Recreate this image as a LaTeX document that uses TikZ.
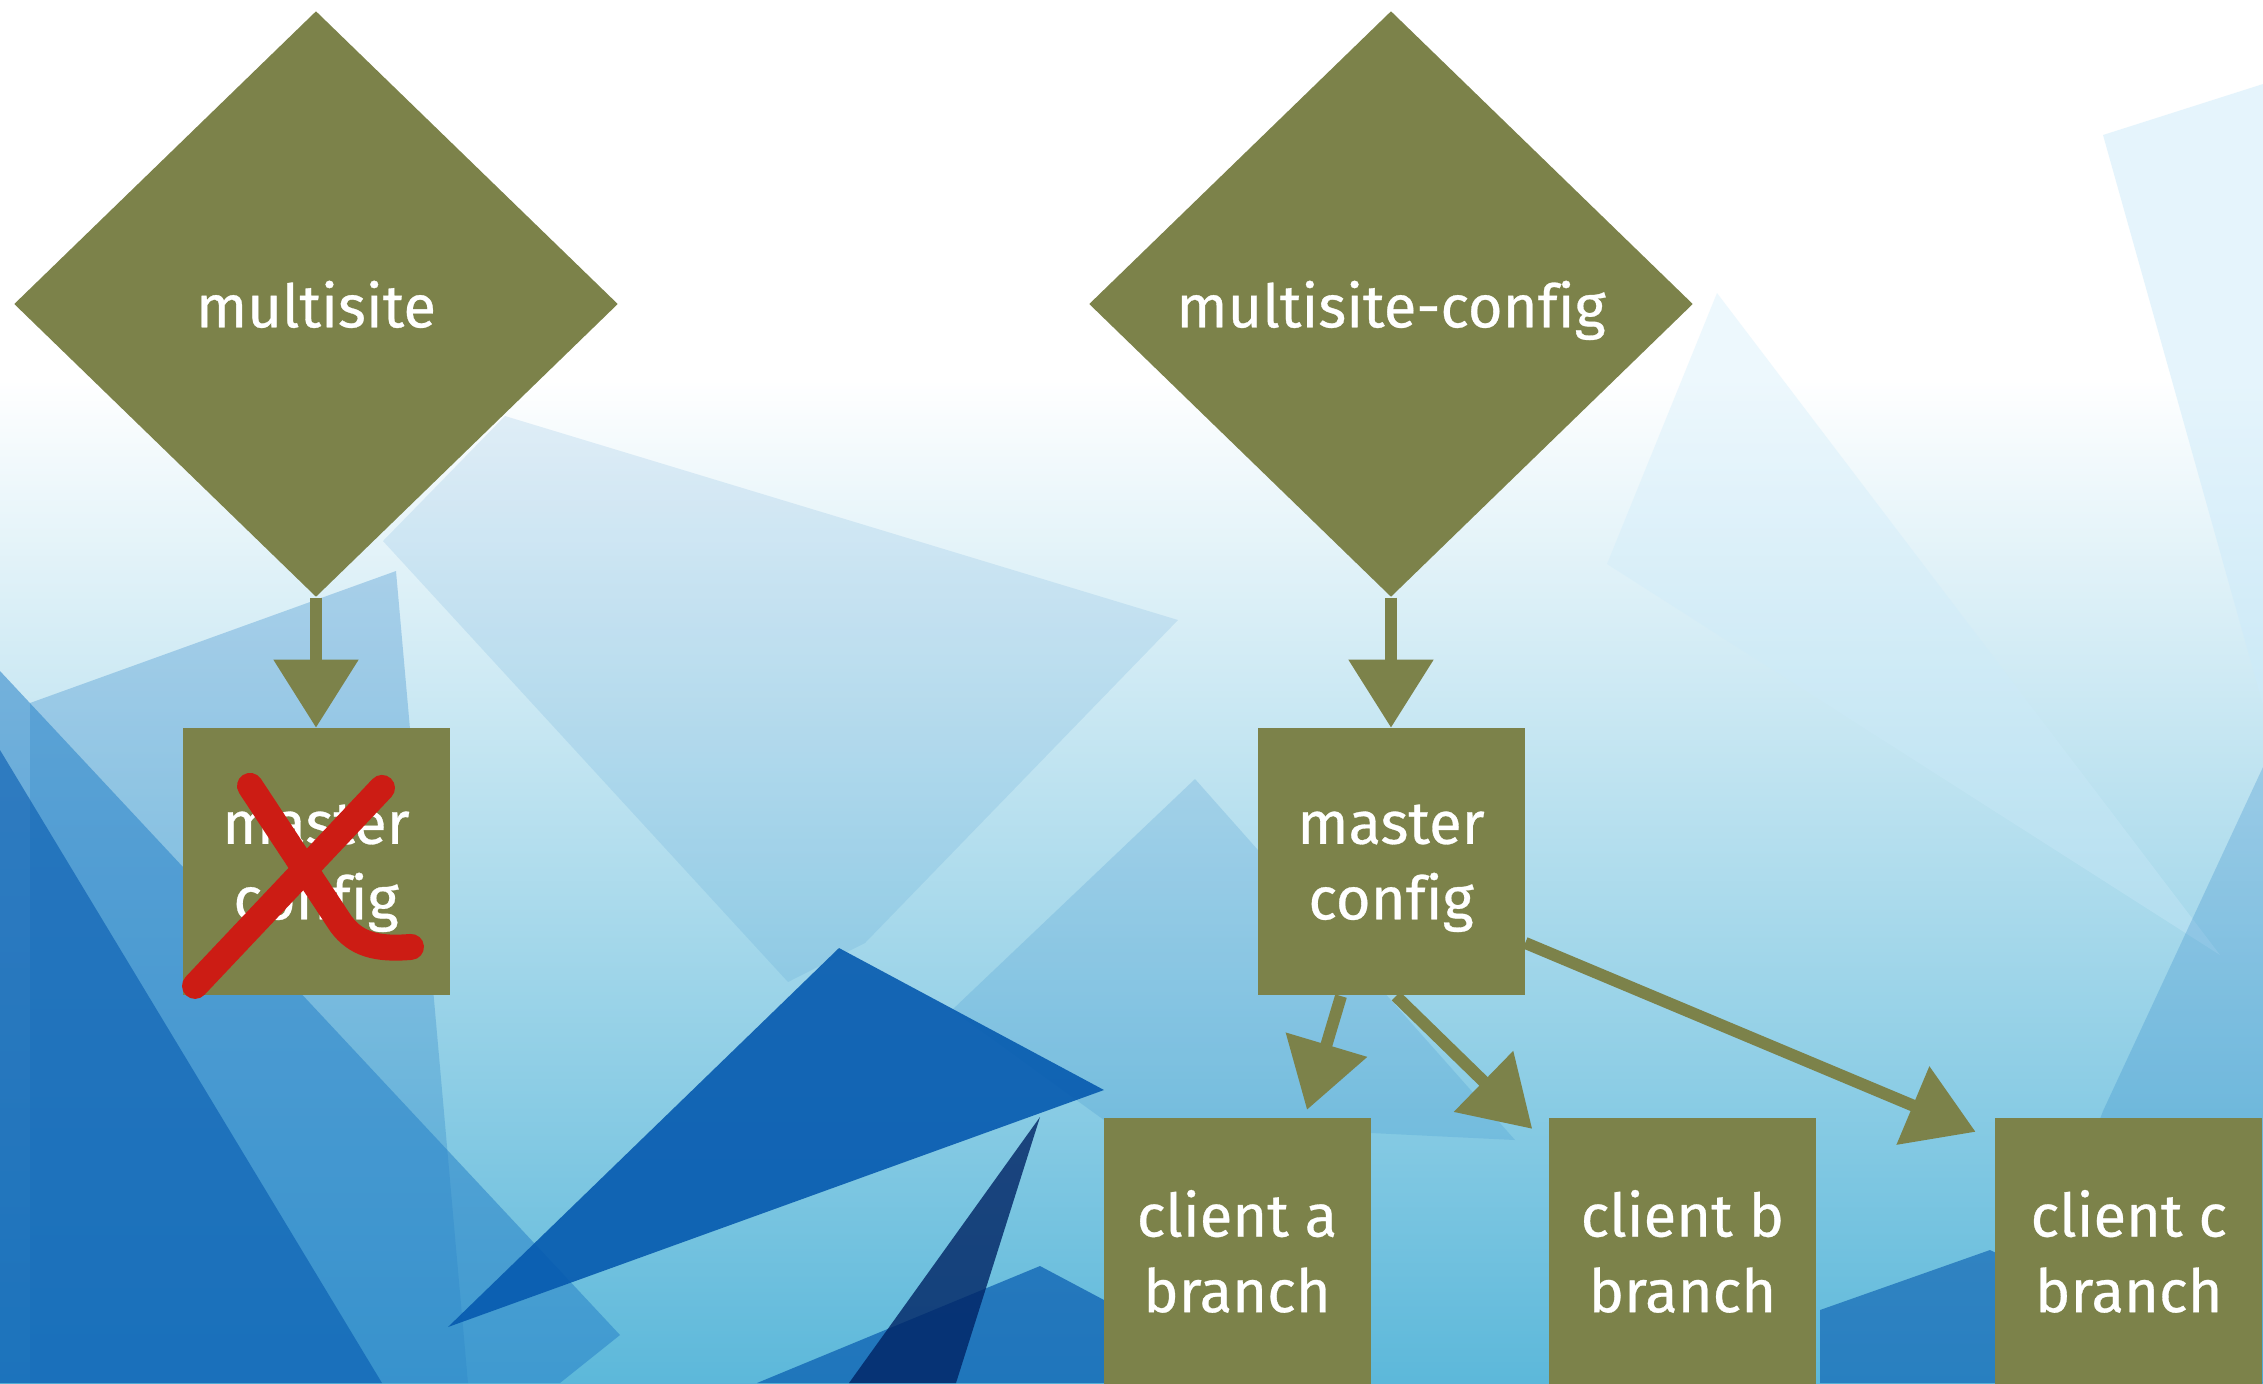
\documentclass[tikz,border=0pt]{standalone}
\usepackage{fontspec}
\setmainfont{Fira Sans}[Ligatures=NoCommon, FakeBold=0.5]
\usetikzlibrary{shapes.geometric, arrows.meta, positioning, calc}
\definecolor{olivecolor}{RGB}{124, 130, 74}
\definecolor{crosscolor}{RGB}{204, 28, 20}
\definecolor{skytop}{RGB}{255, 255, 255}
\definecolor{skymid}{RGB}{178, 222, 240}
\definecolor{skylow}{RGB}{92, 184, 218}
\definecolor{bluemid}{RGB}{40, 130, 200}
\definecolor{bluedeep}{RGB}{6, 90, 175}
\definecolor{bluenavy}{RGB}{0, 35, 100}
\definecolor{bluepale}{RGB}{205, 235, 250}
\tikzset{
    % Base styles
    labeltext/.style={
        text=white, align=center, text depth=0pt,
        font=\fontsize{17}{21.5}\selectfont
    },
    % Specific node types
    diamondnode/.style={
        diamond, labeltext, fill=olivecolor, inner sep=0pt,
        minimum width=60.4mm, minimum height=58.6mm
    },
    boxnode/.style={
        rectangle, labeltext, fill=olivecolor, inner sep=0pt,
        minimum width=26.7mm, minimum height=26.7mm
    },
    % Arrows
    sketcharrow/.style={
        -{Triangle[length=6.8mm, width=8.2mm]}, line width=1.2mm, olivecolor
    },
    % Background pieces
    facet/.style={fill=#1, draw=none},
    crossline/.style={crosscolor, line width=2.6mm, line cap=round, line join=round}
}

\begin{document}
\begin{tikzpicture}[x=0.1mm, y=-0.1mm]

\useasboundingbox (0,0) rectangle (2263,1383);

% Background
\fill[skytop] (0,0) rectangle (2263,380);
\shade[top color=skytop, middle color=skymid, bottom color=skylow] (0,379) rectangle (2263,1383);
\fill[facet=bluepale, opacity=0.5] (2103,135) -- (2263,84) -- (2263,705) -- cycle;
\fill[facet=bluepale, opacity=0.35] (1717,293) -- (1607,564) -- (2220,955) -- cycle;
\fill[facet=bluemid, opacity=0.12] (505,416) -- (1178,620) -- (865,943) -- (788,982) -- (383,541) -- cycle;
\fill[facet=bluemid, opacity=0.18] (1195,779) -- (952,1010) -- (1104,1120) -- (1515,1140) -- cycle;
\fill[facet=bluemid, opacity=0.25] (2263,767) -- (2103,1111) -- (2000,1383) -- (2263,1383) -- cycle;
\fill[facet=bluemid, opacity=0.3] (30,703) -- (396,571) -- (468,1383) -- (30,1383) -- cycle;
\fill[facet=bluemid, opacity=0.55] (0,671) -- (620,1335) -- (560,1383) -- (0,1383) -- cycle;
\fill[facet=bluedeep, opacity=0.6] (0,750) -- (382,1383) -- (0,1383) -- cycle;
\fill[facet=bluedeep, opacity=0.9] (839,948) -- (1104,1090) -- (448,1327) -- cycle;
\fill[facet=bluedeep, opacity=0.7] (1040,1266) -- (757,1383) -- (1104,1383) -- (1104,1300) -- cycle;
\fill[facet=bluenavy, opacity=0.8] (1040,1117) -- (849,1383) -- (956,1383) -- cycle;
\fill[facet=bluedeep, opacity=0.6] (1820,1310) -- (1990,1250) -- (2263,1383) -- (1820,1383) -- cycle;

% Repositories
\node (multisite) [diamondnode] at (316,304) {multisite};
\node (msconfig) [diamondnode] at (1391,304) {multisite-config};

% Branches
\node (oldmaster) [boxnode, below=13mm of multisite] {master\\config};
\node (master) [boxnode, below=13mm of msconfig] {master\\config};
\node (clienta) [boxnode] at (1237,1251) {client a\\branch};
\node (clientb) [boxnode, right=17.7mm of clienta] {client b\\branch};
\node (clientc) [boxnode, right=17.8mm of clientb] {client c\\branch};

% Arrows
\draw[sketcharrow] (multisite.south) -- (oldmaster.north);
\draw[sketcharrow] (msconfig.south) -- (master.north);
\draw[sketcharrow] ([xshift=-5mm]master.south) -- ([xshift=7mm, yshift=0.7mm]clienta.north);
\draw[sketcharrow] ([xshift=0.5mm]master.south) -- ([xshift=-1.6mm, yshift=-1.2mm]clientb.north west);
\draw[sketcharrow] ([yshift=-8.1mm]master.east) -- ([xshift=-1.9mm, yshift=-1.5mm]clientc.north west);

% Crossed out
\begin{scope}[shift={(oldmaster.center)}]
\draw[crossline] (-121,124) -- (66,-74);
\draw[crossline] (-66,-76) -- (25,62) .. controls (40,82) and (60,88) .. (95,85);
\end{scope}

\end{tikzpicture}
\end{document}
